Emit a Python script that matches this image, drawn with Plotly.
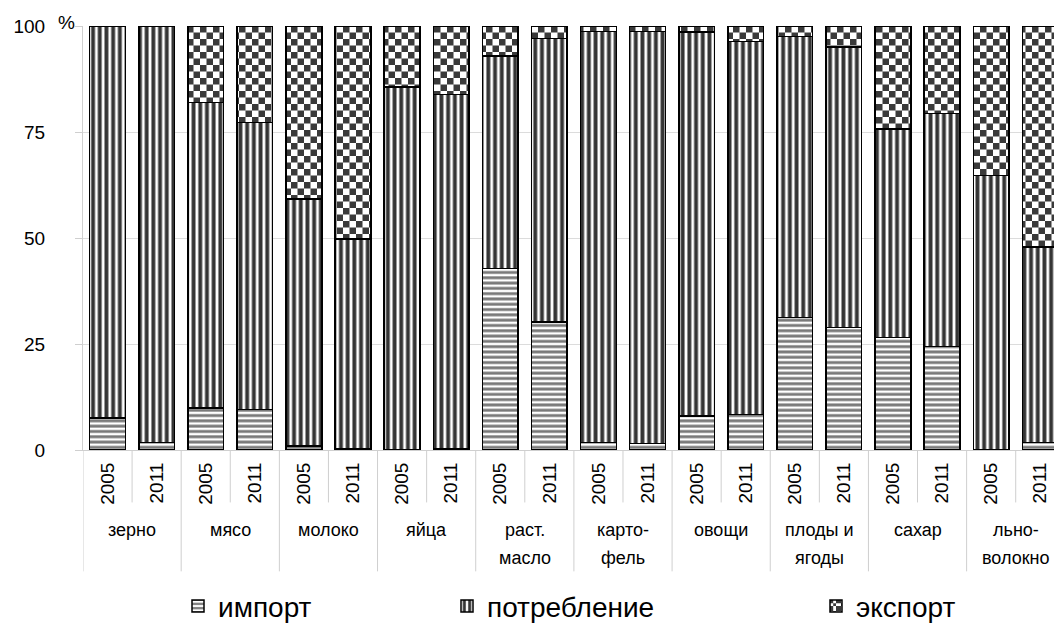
import plotly.graph_objects as go
import numpy as np

groups = ["зерно", "мясо", "молоко", "яйца", "раст.<br>масло", "карто-<br>фель",
          "овощи", "плоды и<br>ягоды", "сахар", "льно-<br>волокно"]
years = ["2005", "2011"]

# shares, % (each bar sums to 100)
imp = [7.6, 1.8, 9.9, 9.5, 1.0, 0.3, 0.1, 0.3, 42.8, 30.2,
       1.8, 1.5, 8.0, 8.4, 31.2, 28.9, 26.5, 24.4, 0.0, 1.8]
cons = [92.4, 98.2, 72.0, 67.8, 58.2, 49.5, 85.5, 83.6, 50.1, 66.9,
        96.9, 97.2, 90.6, 87.9, 66.3, 66.2, 49.2, 55.0, 64.7, 46.1]
exp_ = [0.0, 0.0, 18.1, 22.7, 40.8, 50.2, 14.4, 16.1, 7.1, 2.9,
        1.3, 1.3, 1.4, 3.7, 2.5, 4.9, 24.3, 20.6, 35.3, 52.1]

names = ["импорт", "потребление", "экспорт"]

labels_year = [y for g in groups for y in years]
xpos = np.arange(len(labels_year))

FONT = "Liberation Sans, Arial, sans-serif"

# plot area geometry in pixels
L, T, W, H = 83, 26, 971, 424.5
def px_x(p):
    return (p - L) / W
def px_y(p):
    return (T + H - p) / H

pat_imp = dict(shape="-", size=5.3, solidity=0.55, fgcolor="#7a7a7a", bgcolor="white", fillmode="replace")
pat_cons = dict(shape="|", size=6.7, solidity=0.58, fgcolor="#353535", bgcolor="white", fillmode="replace")
try:
    pat_exp = dict(path="M0,0H6.5V6.5H0ZM6.5,6.5H13V13H6.5Z", size=13, solidity=0.5,
                   fgcolor="#3a3a3a", bgcolor="white", fillmode="replace")
    go.bar.marker.Pattern(**pat_exp)
except Exception:
    pat_exp = dict(shape=".", size=9, solidity=0.5, fgcolor="#3a3a3a", bgcolor="white", fillmode="replace")

fig = go.Figure()
for vals, nm, pat, lg in [(imp, names[0], pat_imp, "legend"),
                          (cons, names[1], pat_cons, "legend2"),
                          (exp_, names[2], pat_exp, "legend3")]:
    fig.add_trace(go.Bar(x=xpos, y=vals, name=nm, legend=lg,
                         marker=dict(color="white", pattern=pat,
                                     line=dict(color="black", width=1.5))))

shapes = []
ann = []
for gi, g in enumerate(groups):
    left = 2 * gi - 0.5
    mid = 2 * gi + 0.5
    shapes.append(dict(type="line", xref="x", yref="paper", x0=left, x1=left,
                       y0=0, y1=px_y(572), line=dict(color="#cfcfcf", width=1)))
    shapes.append(dict(type="line", xref="x", yref="paper", x0=mid, x1=mid,
                       y0=0, y1=px_y(503), line=dict(color="#cfcfcf", width=1)))
    for li, line in enumerate(g.split("<br>")):
        ann.append(dict(x=mid, xref="x", y=px_y(531 + 28 * li), yref="paper",
                        text=line, showarrow=False, xanchor="center", yanchor="middle",
                        font=dict(size=18, color="black", family=FONT)))

ann.append(dict(x=px_x(66), xref="paper", y=px_y(22), yref="paper", text="%", showarrow=False,
                xanchor="center", yanchor="middle", font=dict(size=19, color="black", family=FONT)))

leg_common = dict(orientation="h", yanchor="middle", y=px_y(607), xanchor="left",
                  font=dict(size=28, color="black", family=FONT), bgcolor="rgba(0,0,0,0)")

fig.update_layout(
    width=1054, height=624,
    margin=dict(l=L, r=1054 - L - W, t=T, b=624 - T - H, autoexpand=False),
    paper_bgcolor="white", plot_bgcolor="white",
    barmode="stack", bargap=0.273,
    font=dict(family=FONT, color="black"),
    showlegend=True,
    legend=dict(x=px_x(178), **leg_common),
    legend2=dict(x=px_x(447), **leg_common),
    legend3=dict(x=px_x(816), **leg_common),
    xaxis=dict(range=[-0.5, 19.28], tickmode="array", tickvals=xpos, ticktext=labels_year,
               tickangle=-90, ticks="", showgrid=False, showline=True, linecolor="#cfcfcf",
               linewidth=1, tickfont=dict(size=19, color="black", family=FONT),
               ticklabelstandoff=4, zeroline=False, automargin=False),
    yaxis=dict(range=[0, 100], tickvals=[0, 25, 50, 75, 100], ticks="outside", ticklen=7,
               tickcolor="#cfcfcf", showgrid=True, gridcolor="#dcdcdc", showline=True,
               linecolor="#cfcfcf", zeroline=False, ticklabelstandoff=26, automargin=False,
               tickfont=dict(size=19, color="black", family=FONT)),
    shapes=shapes, annotations=ann,
)

fig.write_html("out.html", config={"displayModeBar": False},
               post_script="document.body.style.margin='0';document.body.style.overflow='hidden';")
